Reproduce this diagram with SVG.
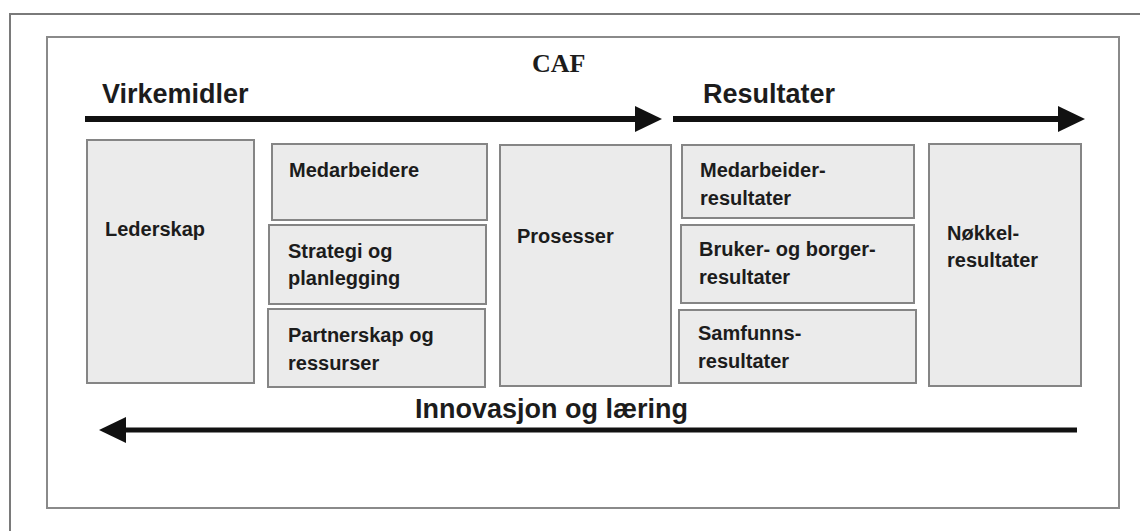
<svg xmlns="http://www.w3.org/2000/svg" width="1140" height="531" viewBox="0 0 1140 531">
<style>
.box{fill:#ebebeb;stroke:#858585;stroke-width:2}
.lbl{font-family:"Liberation Sans",Arial,sans-serif;font-weight:bold;font-size:20px;fill:#1c1c1c}
.big{font-family:"Liberation Sans",Arial,sans-serif;font-weight:bold;font-size:27px;fill:#1c1c1c}
.arr{stroke:#111;fill:none}
</style>
<defs>
<marker id="head" markerUnits="userSpaceOnUse" markerWidth="28" markerHeight="27" refX="0" refY="13" orient="auto">
<path d="M0,0 L27,13 L0,26 z" fill="#111"/>
</marker>
</defs>
<rect width="1140" height="531" fill="#fff"/>
<g id="frame">
<path d="M10,531 V14 H1140" fill="none" stroke="#7a7a7a" stroke-width="2"/>
<rect x="47" y="37" width="1072" height="471" fill="#fff" stroke="#8a8a8a" stroke-width="2"/>
</g>
<g id="title">
<text x="532" y="72" style="font-family:'Liberation Serif','Times New Roman',serif;font-weight:bold;font-size:26px;fill:#1c1c1c">CAF</text>
</g>
<g id="connectors">
<line class="arr" x1="85" y1="119" x2="635" y2="119" stroke-width="6" marker-end="url(#head)"/>
<line class="arr" x1="673" y1="119" x2="1058" y2="119" stroke-width="6" marker-end="url(#head)"/>
<line class="arr" x1="1077" y1="430" x2="126" y2="430" stroke-width="5" marker-end="url(#head)"/>
</g>
<g id="virkemidler"><text class="big" x="102" y="103">Virkemidler</text></g>
<g id="resultater"><text class="big" x="703" y="103">Resultater</text></g>
<g id="innovasjon"><text class="big" x="415" y="418">Innovasjon og læring</text></g>
<g id="lederskap">
<rect class="box" x="87" y="140" width="167" height="243"/>
<text class="lbl" x="105" y="236">Lederskap</text>
</g>
<g id="medarbeidere">
<rect class="box" x="272" y="144" width="215" height="76"/>
<text class="lbl" x="289" y="177">Medarbeidere</text>
</g>
<g id="strategi">
<rect class="box" x="269" y="225" width="217" height="79"/>
<text class="lbl" x="288" y="258">Strategi og</text>
<text class="lbl" x="288" y="285">planlegging</text>
</g>
<g id="partnerskap">
<rect class="box" x="268" y="309" width="217" height="78"/>
<text class="lbl" x="288" y="342">Partnerskap og</text>
<text class="lbl" x="288" y="370">ressurser</text>
</g>
<g id="prosesser">
<rect class="box" x="500" y="145" width="171" height="241"/>
<text class="lbl" x="517" y="243">Prosesser</text>
</g>
<g id="medarbeiderresultater">
<rect class="box" x="682" y="145" width="232" height="73"/>
<text class="lbl" x="700" y="177">Medarbeider-</text>
<text class="lbl" x="700" y="205">resultater</text>
</g>
<g id="brukerresultater">
<rect class="box" x="681" y="225" width="233" height="78"/>
<text class="lbl" x="699" y="256">Bruker- og borger-</text>
<text class="lbl" x="699" y="284">resultater</text>
</g>
<g id="samfunnsresultater">
<rect class="box" x="679" y="310" width="237" height="73"/>
<text class="lbl" x="698" y="340">Samfunns-</text>
<text class="lbl" x="698" y="368">resultater</text>
</g>
<g id="nokkelresultater">
<rect class="box" x="929" y="144" width="152" height="242"/>
<text class="lbl" x="947" y="240">Nøkkel-</text>
<text class="lbl" x="947" y="267">resultater</text>
</g>
</svg>
